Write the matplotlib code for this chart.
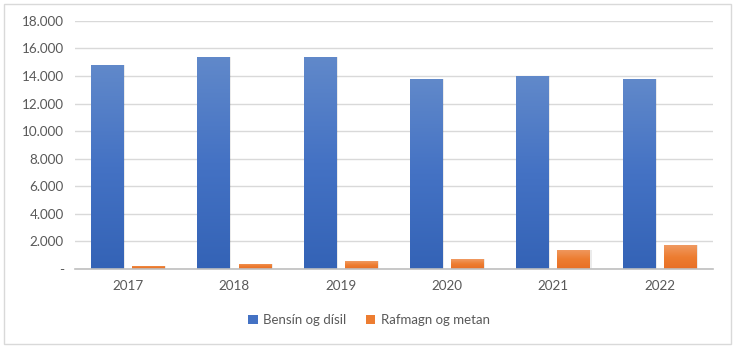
import numpy as np
import matplotlib
matplotlib.use("Agg")
import matplotlib.pyplot as plt
from matplotlib.patches import Rectangle, Patch
from matplotlib.colors import LinearSegmentedColormap

years = ["2017", "2018", "2019", "2020", "2021", "2022"]
bensin = [14800, 15400, 15400, 13800, 14000, 13800]
rafmagn = [240, 385, 580, 725, 1380, 1740]
series_names = ["Bensín og dísil", "Rafmagn og metan"]
yticks = [0, 2000, 4000, 6000, 8000, 10000, 12000, 14000, 16000, 18000]
ytick_labels = ["-", "2.000", "4.000", "6.000", "8.000", "10.000", "12.000", "14.000", "16.000", "18.000"]

plt.rcParams['font.family'] = ['Lato', 'DejaVu Sans']

fig = plt.figure(figsize=(7.35, 3.48), dpi=100)
fig.patches.append(Rectangle((0.006, 0.012), 0.988, 0.976, transform=fig.transFigure,
                             fill=False, edgecolor="#d9d9d9", linewidth=1.0))
ax = fig.add_axes([0.102, 0.227, 0.868, 0.713])

x = np.arange(len(years))
w = 0.31
off = 0.193

blue_cmap = LinearSegmentedColormap.from_list("b", ["#3463b6", "#4472c4", "#6189ca"])
orange_cmap = LinearSegmentedColormap.from_list("o", ["#e86f26", "#ed7d31", "#f09a62"])
grad = np.linspace(0, 1, 256).reshape(-1, 1)

def draw(vals, xs, cmap):
    bars = ax.bar(xs, vals, width=w, color="none", zorder=3)
    for b in bars:
        x0, y0 = b.get_x(), b.get_y()
        bw, bh = b.get_width(), b.get_height()
        ax.add_patch(Rectangle((x0 + 0.010, y0), bw, bh, facecolor="#000000", alpha=0.08,
                               edgecolor="none", zorder=2))
        im = ax.imshow(grad, cmap=cmap, origin="lower", aspect="auto",
                       extent=(x0, x0 + bw, y0, y0 + bh), zorder=3)
        im.set_clip_path(b)
    return bars

draw(bensin, x - off, blue_cmap)
draw(rafmagn, x + off, orange_cmap)

ax.set_xlim(-0.5, len(years) - 0.5)
ax.set_ylim(0, 18000)
ax.set_yticks(yticks)
ax.set_yticklabels(ytick_labels)
ax.set_xticks(x)
ax.set_xticklabels(years)
ax.tick_params(axis="both", length=0, labelsize=9.7, labelcolor="#595959")
ax.tick_params(axis="x", pad=8)
ax.tick_params(axis="y", pad=8)
ax.yaxis.grid(True, color="#d9d9d9", linewidth=1.0, zorder=0)
ax.set_axisbelow(True)
for s in ["top", "right", "left"]:
    ax.spines[s].set_visible(False)
ax.spines["bottom"].set_color("#bfbfbf")
ax.spines["bottom"].set_linewidth(1.2)
ax.spines["bottom"].set_zorder(4)

handles = [Patch(facecolor="#4472c4"), Patch(facecolor="#ed7d31")]
fig.legend(handles, series_names, loc="center", bbox_to_anchor=(0.502, 0.080), ncol=2,
           frameon=False, fontsize=9.5, labelcolor="#595959", handlelength=0.7,
           handleheight=0.7, handletextpad=0.4, columnspacing=1.5)

fig.savefig("out.png", dpi=100)
